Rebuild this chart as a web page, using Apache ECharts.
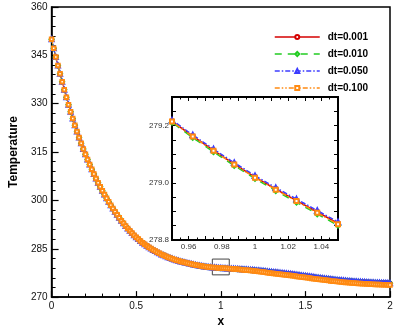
<!DOCTYPE html>
<html><head><meta charset="utf-8">
<script src="https://cdn.jsdelivr.net/npm/echarts@6/dist/echarts.min.js"></script>
<style>html,body{margin:0;padding:0;background:#fff}#c{width:399px;height:333px}</style>
</head><body><div id="c"></div><script>
// sample positions along x
const xs = [0,0.0125,0.025,0.0375,0.05,0.0625,0.075,0.0875,0.1,0.1125,0.125,0.1375,0.15,0.1625,0.175,0.1875,0.2,0.2125,0.225,0.2375,0.25,0.2625,0.275,0.2875,0.3,0.3125,0.325,0.3375,0.35,0.3625,0.375,0.3875,0.4,0.4125,0.425,0.4375,0.45,0.4625,0.475,0.4875,0.5,0.5125,0.525,0.5375,0.55,0.5625,0.575,0.5875,0.6,0.6125,0.625,0.6375,0.65,0.6625,0.675,0.6875,0.7,0.7125,0.725,0.7375,0.75,0.7625,0.775,0.7875,0.8,0.8125,0.825,0.8375,0.85,0.8625,0.875,0.8875,0.9,0.9125,0.925,0.9375,0.95,0.9625,0.975,0.9875,1,1.0125,1.025,1.0375,1.05,1.0625,1.075,1.0875,1.1,1.1125,1.125,1.1375,1.15,1.1625,1.175,1.1875,1.2,1.2125,1.225,1.2375,1.25,1.2625,1.275,1.2875,1.3,1.3125,1.325,1.3375,1.35,1.3625,1.375,1.3875,1.4,1.4125,1.425,1.4375,1.45,1.4625,1.475,1.4875,1.5,1.5125,1.525,1.5375,1.55,1.5625,1.575,1.5875,1.6,1.6125,1.625,1.6375,1.65,1.6625,1.675,1.6875,1.7,1.7125,1.725,1.7375,1.75,1.7625,1.775,1.7875,1.8,1.8125,1.825,1.8375,1.85,1.8625,1.875,1.8875,1.9,1.9125,1.925,1.9375,1.95,1.9625,1.975,1.9875,2];

const T_dt001 = [350.0,347.2,344.48,341.84,339.3,336.78,334.34,331.98,329.7,327.5,325.38,323.35,321.4,319.52,317.71,315.97,314.3,312.69,311.14,309.64,308.2,306.83,305.51,304.23,303.0,301.81,300.66,299.55,298.5,297.47,296.48,295.52,294.6,293.72,292.88,292.07,291.3,290.57,289.88,289.22,288.6,288.0,287.44,286.9,286.4,285.92,285.47,285.05,284.65,284.27,283.91,283.57,283.25,282.95,282.67,282.4,282.15,281.91,281.685,281.47,281.27,281.08,280.895,280.72,280.55,280.395,280.247,280.105,279.97,279.845,279.729,279.621,279.52,279.43,279.35,279.278,279.215,279.163,279.113,279.065,279.02,278.978,278.938,278.898,278.858,278.822,278.785,278.748,278.71,278.67,278.628,278.585,278.54,278.493,278.444,278.393,278.34,278.284,278.225,278.164,278.1,278.033,277.964,277.893,277.82,277.746,277.671,277.596,277.52,277.445,277.37,277.295,277.22,277.142,277.063,276.982,276.9,276.817,276.733,276.647,276.56,276.47,276.38,276.29,276.2,276.113,276.027,275.943,275.86,275.778,275.698,275.619,275.54,275.465,275.394,275.325,275.26,275.196,275.135,275.076,275.02,274.967,274.916,274.867,274.82,274.775,274.732,274.69,274.65,274.613,274.577,274.543,274.51,274.48,274.452,274.425,274.4,274.378,274.358,274.338,274.32];

const T_dt010 = [350.0,347.2,344.48,341.84,339.3,336.78,334.34,331.98,329.7,327.5,325.38,323.35,321.4,319.52,317.71,315.97,314.3,312.69,311.14,309.64,308.2,306.83,305.51,304.23,303.0,301.81,300.66,299.55,298.5,297.47,296.48,295.52,294.6,293.72,292.88,292.07,291.3,290.57,289.88,289.22,288.6,288.0,287.44,286.9,286.4,285.92,285.47,285.05,284.65,284.27,283.91,283.57,283.25,282.95,282.67,282.4,282.15,281.91,281.685,281.47,281.27,281.08,280.895,280.72,280.55,280.395,280.247,280.105,279.97,279.845,279.729,279.621,279.52,279.43,279.35,279.278,279.211,279.158,279.108,279.06,279.015,278.972,278.932,278.891,278.851,278.818,278.781,278.744,278.706,278.666,278.624,278.581,278.536,278.489,278.44,278.389,278.336,278.28,278.221,278.16,278.096,278.029,277.96,277.889,277.816,277.742,277.667,277.592,277.516,277.441,277.366,277.291,277.216,277.138,277.059,276.978,276.896,276.813,276.729,276.643,276.556,276.466,276.376,276.286,276.196,276.109,276.023,275.939,275.856,275.774,275.694,275.615,275.536,275.461,275.39,275.321,275.256,275.192,275.131,275.072,275.016,274.963,274.912,274.863,274.816,274.771,274.728,274.686,274.646,274.609,274.573,274.539,274.506,274.476,274.448,274.421,274.396,274.374,274.354,274.334,274.316];

const T_dt050 = [350.0,347.2,344.48,341.84,339.3,336.78,334.34,331.98,329.7,327.5,325.38,323.35,321.4,319.52,317.71,315.97,314.3,312.69,311.14,309.64,308.2,306.83,305.51,304.23,303.0,301.81,300.66,299.55,298.5,297.47,296.48,295.52,294.6,293.72,292.88,292.07,291.3,290.57,289.88,289.22,288.6,288.0,287.44,286.9,286.4,285.92,285.47,285.05,284.65,284.27,283.91,283.57,283.25,282.95,282.67,282.4,282.15,281.91,281.685,281.47,281.27,281.08,280.895,280.72,280.55,280.395,280.247,280.105,279.97,279.845,279.729,279.621,279.52,279.43,279.35,279.278,279.219,279.167,279.118,279.07,279.025,278.983,278.943,278.903,278.863,278.827,278.79,278.753,278.715,278.675,278.633,278.59,278.545,278.498,278.449,278.398,278.345,278.289,278.23,278.169,278.105,278.038,277.969,277.898,277.825,277.751,277.676,277.601,277.525,277.45,277.375,277.3,277.225,277.147,277.068,276.987,276.905,276.822,276.738,276.652,276.565,276.475,276.385,276.295,276.205,276.118,276.032,275.948,275.865,275.783,275.703,275.624,275.545,275.47,275.399,275.33,275.265,275.201,275.14,275.081,275.025,274.972,274.921,274.872,274.825,274.78,274.737,274.695,274.655,274.618,274.582,274.548,274.515,274.485,274.457,274.43,274.405,274.383,274.363,274.343,274.325];

const T_dt100 = [350.0,347.2,344.48,341.84,339.3,336.78,334.34,331.98,329.7,327.5,325.38,323.35,321.4,319.52,317.71,315.97,314.3,312.69,311.14,309.64,308.2,306.83,305.51,304.23,303.0,301.81,300.66,299.55,298.5,297.47,296.48,295.52,294.6,293.72,292.88,292.07,291.3,290.57,289.88,289.22,288.6,288.0,287.44,286.9,286.4,285.92,285.47,285.05,284.65,284.27,283.91,283.57,283.25,282.95,282.67,282.4,282.15,281.91,281.685,281.47,281.27,281.08,280.895,280.72,280.55,280.395,280.247,280.105,279.97,279.845,279.729,279.621,279.52,279.43,279.35,279.278,279.214,279.162,279.112,279.064,279.018,278.976,278.936,278.895,278.855,278.802,278.74,278.681,278.62,278.558,278.493,278.428,278.36,278.293,278.224,278.153,278.08,278.004,277.925,277.844,277.76,277.673,277.584,277.493,277.4,277.316,277.231,277.146,277.07,276.985,276.91,276.835,276.75,276.672,276.593,276.512,276.42,276.337,276.253,276.167,276.07,275.98,275.89,275.8,275.7,275.613,275.527,275.443,275.36,275.278,275.198,275.119,275.03,274.955,274.884,274.815,274.75,274.676,274.615,274.556,274.5,274.447,274.386,274.337,274.29,274.245,274.202,274.15,274.11,274.073,274.037,274.003,273.97,273.94,273.902,273.875,273.85,273.828,273.808,273.788,273.77];

const seriesNames = ['dt=0.001','dt=0.010','dt=0.050','dt=0.100'];
const seriesValues = [T_dt001, T_dt010, T_dt050, T_dt100];
const insetXLabels = [0.96, 0.98, 1, 1.02, 1.04];
const insetYLabels = [278.8, 279.0, 279.2];
const zoomBoxX = [0.95, 1.05];
const zoomBoxY = [276.9, 281.8];

const styles = [
  {color:'#d40000', symbol:'emptyCircle', dash:'solid', size:3.5},
  {color:'#22cc22', symbol:'emptyDiamond', dash:[7,6], size:4},
  {color:'#3c3cff', symbol:'emptyTriangle', dash:[5,2,1.5,2], size:4},
  {color:'#ff8a12', symbol:'emptyRect', dash:[5,2,1.5,2,1.5,2], size:3.5}
];

const FONT = 'Liberation Sans';
const chart = echarts.init(document.getElementById('c'), null, {renderer:'canvas'});

function pairs(vals){ return xs.map((x,i)=>[x, vals[i]]); }

const series = [];
seriesValues.forEach((vals, i) => {
  const st = styles[i];
  const s = {
    name: seriesNames[i], type:'line', xAxisIndex:0, yAxisIndex:0,
    data: pairs(vals), symbol: st.symbol, symbolSize: st.size, showAllSymbol: true,
    lineStyle:{color:st.color, width:1, type:st.dash},
    itemStyle:{color:st.color, borderWidth:1},
    z: 2 + i, animation:false
  };
  if (i === 3) {
    s.markArea = {
      silent:true,
      itemStyle:{color:'rgba(0,0,0,0)', borderColor:'#444', borderWidth:1},
      data:[[{coord:[zoomBoxX[0], zoomBoxY[0]]},{coord:[zoomBoxX[1], zoomBoxY[1]]}]]
    };
  }
  series.push(s);
});
seriesValues.forEach((vals, i) => {
  const st = styles[i];
  series.push({
    name: seriesNames[i], type:'line', xAxisIndex:1, yAxisIndex:1, zlevel:1,
    data: pairs(vals), symbol: st.symbol, symbolSize: st.size + 0.5, showAllSymbol: true, clip:true,
    lineStyle:{color:st.color, width:1.5, type:st.dash},
    itemStyle:{color:st.color, borderWidth:1.2},
    z: 2 + i, animation:false
  });
});

function near(v, list){ return list.some(t => Math.abs(t - v) < 1e-6); }

const option = {
  animation:false,
  textStyle:{fontFamily:FONT},
  legend:{
    data: seriesNames, orient:'vertical', left:274, top:32, padding:0,
    itemWidth:45, itemHeight:5, itemGap:7, selectedMode:false,
    lineStyle:{width:1.5},
    textStyle:{fontSize:10, fontWeight:'bold', color:'#000', fontFamily:FONT, padding:[0,0,0,3]}
  },
  grid:[
    {left:48, top:7, right:9, bottom:28, show:true, borderColor:'#000', borderWidth:1.5, backgroundColor:'#fff'},
    {left:172, top:97, width:166, height:143, show:true, borderColor:'#000', borderWidth:2, backgroundColor:'#fff', zlevel:1}
  ],
  xAxis:[
    {type:'value', gridIndex:0, min:0, max:2, interval:0.5,
     axisLine:{show:true, onZero:false, lineStyle:{color:'#000', width:1.5}},
     axisTick:{show:true, inside:true, length:6, lineStyle:{color:'#000', width:1.2}},
     minorTick:{show:true, splitNumber:5, length:3.5, lineStyle:{color:'#000', width:1}},
     splitLine:{show:false},
     axisLabel:{fontSize:10, color:'#111', margin:4},
     name:'x', nameLocation:'middle', nameGap:11,
     nameTextStyle:{fontSize:12, fontWeight:'bold', color:'#000', fontFamily:FONT}},
    {type:'value', gridIndex:1, position:'bottom', min:0.95, max:1.05, interval:0.01, zlevel:1,
     axisLine:{show:true, onZero:false, lineStyle:{color:'#000', width:2}},
     axisTick:{show:true, inside:true, length:4, lineStyle:{color:'#000', width:1}},
     minorTick:{show:true, splitNumber:2, length:2.5, lineStyle:{color:'#000', width:1}},
     splitLine:{show:false},
     axisLabel:{fontSize:8, color:'#333', margin:3, showMinLabel:true, showMaxLabel:true,
       formatter: v => near(v, insetXLabels) ? String(+(+v).toFixed(2)) : ''}},
    {type:'value', gridIndex:1, position:'top', min:0.95, max:1.05, interval:0.01, zlevel:1,
     axisLine:{show:true, onZero:false, lineStyle:{color:'#000', width:2}},
     axisTick:{show:true, inside:true, length:4, lineStyle:{color:'#000', width:1}},
     minorTick:{show:true, splitNumber:2, length:2.5, lineStyle:{color:'#000', width:1}},
     splitLine:{show:false}, axisLabel:{show:false}}
  ],
  yAxis:[
    {type:'value', gridIndex:0, min:270, max:360, interval:15,
     axisLine:{show:true, onZero:false, lineStyle:{color:'#000', width:1.5}},
     axisTick:{show:true, inside:true, length:7, lineStyle:{color:'#000', width:1.2}},
     minorTick:{show:true, splitNumber:5, length:4, lineStyle:{color:'#000', width:1}},
     splitLine:{show:false},
     axisLabel:{fontSize:10, color:'#111', margin:4},
     name:'Temperature', nameLocation:'middle', nameGap:30,
     nameTextStyle:{fontSize:12, fontWeight:'bold', color:'#000', fontFamily:FONT}},
    {type:'value', gridIndex:1, position:'left', min:278.8, max:279.3, interval:0.05, zlevel:1,
     axisLine:{show:true, onZero:false, lineStyle:{color:'#000', width:2}},
     axisTick:{show:true, inside:true, length:4, lineStyle:{color:'#000', width:1}},
     splitLine:{show:false},
     axisLabel:{fontSize:8, color:'#333', margin:3, showMaxLabel:false,
       formatter: v => near(v, insetYLabels) ? (+v).toFixed(1) : ''}},
    {type:'value', gridIndex:1, position:'right', min:278.8, max:279.3, interval:0.05, zlevel:1,
     axisLine:{show:true, onZero:false, lineStyle:{color:'#000', width:2}},
     axisTick:{show:true, inside:true, length:4, lineStyle:{color:'#000', width:1}},
     splitLine:{show:false}, axisLabel:{show:false}}
  ],
  series: series
};
chart.setOption(option);
</script></body></html>
